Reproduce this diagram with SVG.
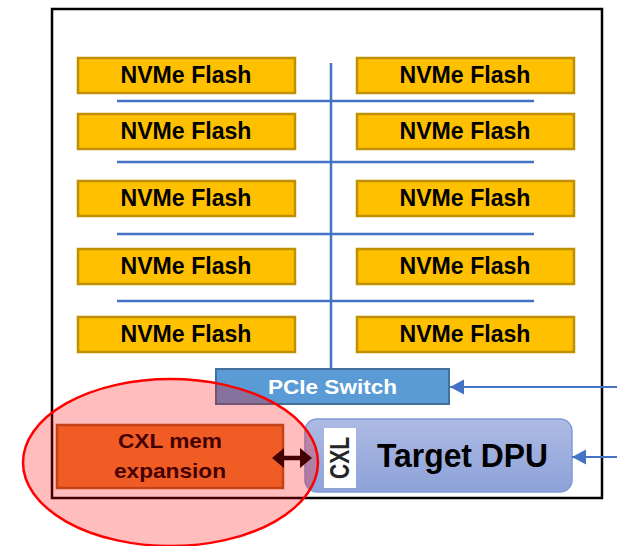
<svg xmlns="http://www.w3.org/2000/svg" width="617" height="546" viewBox="0 0 617 546">
  <style>
    .flash rect { fill: #ffc000; stroke: #bf9000; stroke-width: 2.5; }
    .lbl { font-family: "Liberation Sans", Arial, sans-serif; font-weight: bold; text-anchor: middle; }
    .flash text { font-size: 23px; fill: #000; }
    .bus { stroke: #4472c4; stroke-width: 2.5; fill: none; }
    .link { stroke: #4472c4; stroke-width: 2; fill: none; }
  </style>
  <defs>
    <marker id="arrowBlue" markerUnits="userSpaceOnUse" markerWidth="16" markerHeight="16" refX="14" refY="8" orient="auto">
      <path d="M0,0.5 L14,8 L0,15.5 Z" fill="#4472c4"/>
    </marker>
    <linearGradient id="dpuFill" x1="0" y1="0" x2="0" y2="1">
      <stop offset="0" stop-color="#adbae3"/>
      <stop offset="1" stop-color="#8da2d9"/>
    </linearGradient>
  </defs>

  <rect width="617" height="546" fill="#fff"/>

  <!-- enclosure -->
  <rect id="enclosure" x="52" y="9" width="550" height="489" fill="none" stroke="#000" stroke-width="2.5"/>

  <!-- NVMe drives, left column -->
  <g id="flash-l1" class="flash"><rect x="78" y="58" width="217" height="35"/><text class="lbl" x="186" y="83" textLength="131" lengthAdjust="spacingAndGlyphs">NVMe Flash</text></g>
  <g id="flash-l2" class="flash"><rect x="78" y="114" width="217" height="35"/><text class="lbl" x="186" y="139" textLength="131" lengthAdjust="spacingAndGlyphs">NVMe Flash</text></g>
  <g id="flash-l3" class="flash"><rect x="78" y="181" width="217" height="35"/><text class="lbl" x="186" y="206" textLength="131" lengthAdjust="spacingAndGlyphs">NVMe Flash</text></g>
  <g id="flash-l4" class="flash"><rect x="78" y="249" width="217" height="35"/><text class="lbl" x="186" y="274" textLength="131" lengthAdjust="spacingAndGlyphs">NVMe Flash</text></g>
  <g id="flash-l5" class="flash"><rect x="78" y="317" width="217" height="35"/><text class="lbl" x="186" y="342" textLength="131" lengthAdjust="spacingAndGlyphs">NVMe Flash</text></g>

  <!-- NVMe drives, right column -->
  <g id="flash-r1" class="flash"><rect x="357" y="58" width="217" height="35"/><text class="lbl" x="465" y="83" textLength="131" lengthAdjust="spacingAndGlyphs">NVMe Flash</text></g>
  <g id="flash-r2" class="flash"><rect x="357" y="114" width="217" height="35"/><text class="lbl" x="465" y="139" textLength="131" lengthAdjust="spacingAndGlyphs">NVMe Flash</text></g>
  <g id="flash-r3" class="flash"><rect x="357" y="181" width="217" height="35"/><text class="lbl" x="465" y="206" textLength="131" lengthAdjust="spacingAndGlyphs">NVMe Flash</text></g>
  <g id="flash-r4" class="flash"><rect x="357" y="249" width="217" height="35"/><text class="lbl" x="465" y="274" textLength="131" lengthAdjust="spacingAndGlyphs">NVMe Flash</text></g>
  <g id="flash-r5" class="flash"><rect x="357" y="317" width="217" height="35"/><text class="lbl" x="465" y="342" textLength="131" lengthAdjust="spacingAndGlyphs">NVMe Flash</text></g>

  <!-- PCIe switch -->
  <g id="pcie-switch">
    <rect x="216" y="369" width="233" height="35" fill="#5b9bd5" stroke="#41719c" stroke-width="2"/>
    <text class="lbl" x="332.5" y="394" font-size="21" fill="#fff" textLength="129" lengthAdjust="spacingAndGlyphs">PCIe Switch</text>
  </g>

  <!-- Target DPU with CXL port -->
  <g id="target-dpu">
    <rect x="305" y="419" width="267" height="73" rx="12" fill="url(#dpuFill)" stroke="#7f9ad6" stroke-width="1.5"/>
    <rect x="324" y="428" width="32" height="60" fill="#fff"/>
    <text class="lbl" transform="translate(349,458) rotate(-90)" x="0" y="0" font-size="27" fill="#262626" textLength="42" lengthAdjust="spacingAndGlyphs">CXL</text>
    <text class="lbl" x="462.5" y="467" font-size="33" fill="#000" textLength="171" lengthAdjust="spacingAndGlyphs">Target DPU</text>
  </g>

  <!-- CXL memory expansion -->
  <g id="cxl-mem">
    <rect x="57" y="425" width="226" height="63" fill="#ed7d31" stroke="#ae5a21" stroke-width="2.5"/>
    <text class="lbl" x="170" y="448" font-size="21" fill="#000" textLength="104" lengthAdjust="spacingAndGlyphs">CXL mem</text>
    <text class="lbl" x="170" y="478" font-size="21" fill="#000" textLength="112" lengthAdjust="spacingAndGlyphs">expansion</text>
  </g>

  <!-- PCIe fabric and host links -->
  <g id="connectors">
    <line class="bus" x1="331" y1="63" x2="331" y2="369"/>
    <line class="bus" x1="117" y1="101" x2="534" y2="101"/>
    <line class="bus" x1="117" y1="162" x2="534" y2="162"/>
    <line class="bus" x1="117" y1="234" x2="534" y2="234"/>
    <line class="bus" x1="117" y1="301" x2="534" y2="301"/>
    <line class="link" x1="617" y1="387" x2="450" y2="387" marker-end="url(#arrowBlue)"/>
    <line class="link" x1="617" y1="457" x2="572" y2="457" marker-end="url(#arrowBlue)"/>
    <!-- CXL link between memory expansion and DPU -->
    <path id="cxl-link" d="M272,458 L284,448 L284,455.8 L300,455.8 L300,448 L312,458 L300,468 L300,460.2 L284,460.2 L284,468 Z" fill="#000"/>
  </g>

  <!-- highlight around the memory expansion -->
  <ellipse id="highlight" cx="170.5" cy="462.5" rx="147.5" ry="83.5" fill="#ff0000" fill-opacity="0.26" stroke="#ff0000" stroke-width="2.5"/>
</svg>
